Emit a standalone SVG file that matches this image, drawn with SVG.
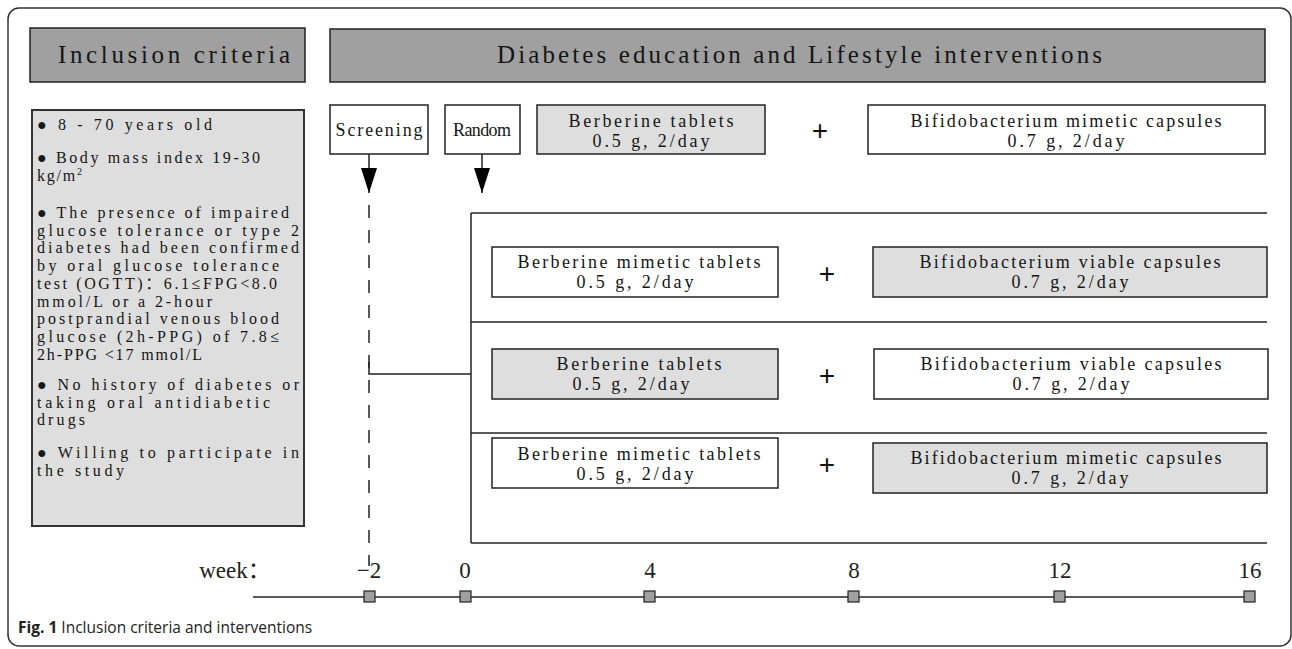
<svg xmlns="http://www.w3.org/2000/svg" width="1292" height="649" viewBox="0 0 1292 649">
<defs>
<marker id="arr" markerWidth="25" markerHeight="16" refX="25" refY="8" orient="auto" markerUnits="userSpaceOnUse" viewBox="0 0 25 16">
<path d="M0,0 L25,8 L0,16 Z" fill="#000"/>
</marker>
</defs>
<style>
.frame{fill:#fff;stroke:#333;stroke-width:1.5}
.hdr{fill:#a0a0a0;stroke:#222;stroke-width:1.5}
.box{fill:#fff;stroke:#222;stroke-width:1.5}
.gbox{fill:#dedede;stroke:#222;stroke-width:1.5}
.ln{stroke:#222;stroke-width:1.5;fill:none}
.sf{font-family:"Liberation Serif","Noto Sans CJK SC",serif;fill:#151515}
.ht{font-size:25px}
.bt{font-size:18px;text-anchor:middle}
.ct{font-size:16px}
.plus{font-family:"Liberation Sans",sans-serif;font-size:28px;text-anchor:middle;fill:#111}
.num{font-family:"Liberation Serif","Noto Sans CJK SC",serif;font-size:23px;text-anchor:middle;fill:#222}
.tick{fill:#a0a0a0;stroke:#222;stroke-width:1.2}
.cap{font-family:"Open Sans","Noto Sans",sans-serif;font-size:15.5px;fill:#222}
</style>
<rect class="frame" x="8" y="8" width="1283" height="638" rx="11"/>

<g id="hdr-inclusion">
<rect class="hdr" x="30" y="28" width="275" height="54"/>
<text class="sf ht" x="58" y="63" textLength="232" lengthAdjust="spacing">Inclusion criteria</text>
</g>
<g id="hdr-diabetes">
<rect class="hdr" x="330" y="29" width="935" height="53"/>
<text class="sf ht" x="497" y="63" textLength="605" lengthAdjust="spacing">Diabetes education and Lifestyle interventions</text>
</g>

<g id="criteria">
<rect x="32" y="110" width="272" height="416" fill="#dedede" stroke="#333" stroke-width="2"/>
<g class="sf ct">
<text x="37" y="130" textLength="175" lengthAdjust="spacing">● 8 - 70 years old</text>
<text x="37" y="163" textLength="223" lengthAdjust="spacing">● Body mass index 19-30</text>
<text x="37" y="181" letter-spacing="1.8">kg/m<tspan font-size="10" dy="-6">2</tspan></text>
<text x="37" y="218" textLength="252" lengthAdjust="spacing">● The presence of impaired</text>
<text x="37" y="235.7" textLength="262" lengthAdjust="spacing">glucose tolerance or type 2</text>
<text x="37" y="253.4" textLength="262" lengthAdjust="spacing">diabetes had been confirmed</text>
<text x="37" y="271.1" textLength="242" lengthAdjust="spacing">by oral glucose tolerance</text>
<text x="37" y="288.8" textLength="240" lengthAdjust="spacing">test (OGTT)：6.1≤FPG&lt;8.0</text>
<text x="37" y="306.5" textLength="175" lengthAdjust="spacing">mmol/L or a 2-hour</text>
<text x="37" y="324.2" textLength="242" lengthAdjust="spacing">postprandial venous blood</text>
<text x="37" y="341.9" textLength="242" lengthAdjust="spacing">glucose (2h-PPG) of 7.8≤</text>
<text x="37" y="359.6" textLength="165" lengthAdjust="spacing">2h-PPG &lt;17 mmol/L</text>
<text x="37" y="390" textLength="262" lengthAdjust="spacing">● No history of diabetes or</text>
<text x="37" y="407.7" textLength="233" lengthAdjust="spacing">taking oral antidiabetic</text>
<text x="37" y="425.4" textLength="48" lengthAdjust="spacing">drugs</text>
<text x="37" y="458" textLength="262" lengthAdjust="spacing">● Willing to participate in</text>
<text x="37" y="475.7" textLength="87" lengthAdjust="spacing">the study</text>
</g>
</g>

<g id="screening">
<rect class="box" x="330" y="105" width="98" height="49"/>
<text class="sf bt" x="379" y="136" textLength="87" lengthAdjust="spacing">Screening</text>
</g>
<g id="random">
<rect class="box" x="445" y="105" width="75" height="49"/>
<text class="sf bt" x="482" y="136" textLength="58" lengthAdjust="spacing">Random</text>
</g>
<g id="top-berberine">
<rect class="gbox" x="537" y="105" width="228" height="49"/>
<text class="sf bt" x="651" y="127" textLength="165" lengthAdjust="spacing">Berberine tablets</text>
<text class="sf bt" x="651" y="147" textLength="117" lengthAdjust="spacing">0.5 g, 2/day</text>
</g>
<text class="plus" x="820" y="140">+</text>
<g id="top-bifido">
<rect class="box" x="868" y="105" width="397" height="49"/>
<text class="sf bt" x="1066" y="127" textLength="311" lengthAdjust="spacing">Bifidobacterium mimetic capsules</text>
<text class="sf bt" x="1066" y="147" textLength="117" lengthAdjust="spacing">0.7 g, 2/day</text>
</g>

<g id="row1-berberine">
<rect class="box" x="492" y="247" width="286" height="50"/>
<text class="sf bt" x="639" y="268" textLength="243" lengthAdjust="spacing">Berberine mimetic tablets</text>
<text class="sf bt" x="635" y="288" textLength="117" lengthAdjust="spacing">0.5 g, 2/day</text>
</g>
<text class="plus" x="827" y="283">+</text>
<g id="row1-bifido">
<rect class="gbox" x="873" y="247" width="394" height="50"/>
<text class="sf bt" x="1070" y="268" textLength="301" lengthAdjust="spacing">Bifidobacterium viable capsules</text>
<text class="sf bt" x="1070" y="288" textLength="117" lengthAdjust="spacing">0.7 g, 2/day</text>
</g>

<g id="row2-berberine">
<rect class="gbox" x="492" y="349" width="286" height="50"/>
<text class="sf bt" x="639" y="370" textLength="165" lengthAdjust="spacing">Berberine tablets</text>
<text class="sf bt" x="631" y="390" textLength="117" lengthAdjust="spacing">0.5 g, 2/day</text>
</g>
<text class="plus" x="827" y="385">+</text>
<g id="row2-bifido">
<rect class="box" x="874" y="349" width="394" height="50"/>
<text class="sf bt" x="1071" y="370" textLength="301" lengthAdjust="spacing">Bifidobacterium viable capsules</text>
<text class="sf bt" x="1071" y="390" textLength="117" lengthAdjust="spacing">0.7 g, 2/day</text>
</g>

<g id="row3-berberine">
<rect class="box" x="492" y="438" width="286" height="50"/>
<text class="sf bt" x="639" y="460" textLength="243" lengthAdjust="spacing">Berberine mimetic tablets</text>
<text class="sf bt" x="635" y="480" textLength="117" lengthAdjust="spacing">0.5 g, 2/day</text>
</g>
<text class="plus" x="827" y="474">+</text>
<g id="row3-bifido">
<rect class="gbox" x="873" y="443" width="394" height="50"/>
<text class="sf bt" x="1066" y="464" textLength="311" lengthAdjust="spacing">Bifidobacterium mimetic capsules</text>
<text class="sf bt" x="1070" y="484" textLength="117" lengthAdjust="spacing">0.7 g, 2/day</text>
</g>

<g id="connectors">
<line class="ln" x1="369" y1="154" x2="369" y2="193" marker-end="url(#arr)"/>
<line class="ln" x1="482" y1="154" x2="482" y2="193" marker-end="url(#arr)"/>
<line class="ln" x1="369" y1="205" x2="369" y2="566" stroke-dasharray="13 12"/>
<polyline class="ln" points="369,362 369,374 471,374"/>
<line class="ln" x1="471" y1="213" x2="471" y2="543"/>
<line class="ln" x1="471" y1="213" x2="1267" y2="213"/>
<line class="ln" x1="471" y1="322" x2="1267" y2="322"/>
<line class="ln" x1="471" y1="433" x2="1267" y2="433"/>
<line class="ln" x1="471" y1="543" x2="1267" y2="543"/>
</g>

<g id="timeline">
<text class="num" x="235" y="578">week：</text>
<line class="ln" x1="253" y1="597" x2="1250" y2="597"/>
<rect class="tick" x="364" y="591" width="11" height="11"/>
<rect class="tick" x="460" y="591" width="11" height="11"/>
<rect class="tick" x="644" y="591" width="11" height="11"/>
<rect class="tick" x="848" y="591" width="11" height="11"/>
<rect class="tick" x="1054" y="591" width="11" height="11"/>
<rect class="tick" x="1244" y="591" width="11" height="11"/>
<text class="num" x="369" y="578">−2</text>
<text class="num" x="465" y="578">0</text>
<text class="num" x="650" y="578">4</text>
<text class="num" x="854" y="578">8</text>
<text class="num" x="1060" y="578">12</text>
<text class="num" x="1250" y="578">16</text>
</g>

<text class="cap" x="18" y="633"><tspan font-weight="bold">Fig. 1</tspan> Inclusion criteria and interventions</text>
</svg>
